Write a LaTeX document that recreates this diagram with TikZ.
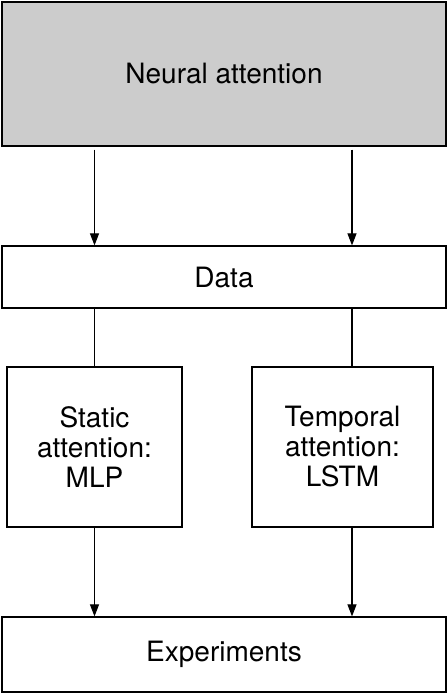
\documentclass[tikz,border=0pt]{standalone}
\usepackage{fontspec}
\setmainfont{TeX Gyre Heros}
\usetikzlibrary{arrows.meta}

\begin{document}
\begin{tikzpicture}[x=1pt, y=1pt, >={Triangle[width=9pt,length=12pt]},
    every box/.style={draw, line width=1.2pt, inner sep=0pt, align=center,
      font=\fontsize{28}{30}\selectfont},
    wide box/.style={every box, minimum width=444pt},
    small box/.style={every box, minimum height=160pt},
    link/.style={line width=1.1pt}]
  \useasboundingbox (0,0) rectangle (447,-694);
  \node [wide box, fill=black!20, minimum height=144pt] (neural) at (224,-74) {Neural attention};
  \node [wide box, minimum height=62pt] (data) at (224,-277) {Data};
  \node [small box, minimum width=175pt] (static) at (94.5,-447) {Static\\attention:\\MLP};
  \node [small box, minimum width=181pt] (temporal) at (342.5,-447) {Temporal\\attention:\\LSTM};
  \node [wide box, minimum height=75pt] (experiments) at (224,-654.5) {Experiments};
  \coordinate (col-1) at (94.5,0);
  \coordinate (col-2) at (352,0);
  \foreach \i in {1,2}
    \draw [link, ->, shorten <=3pt] (neural.south -| col-\i) -- (data.north -| col-\i);
  \draw [link] (data.south -| col-1) -- (static.north -| col-1);
  \draw [link] (data.south -| col-2) -- (temporal.north -| col-2);
  \draw [link, ->] (static.south -| col-1) -- (experiments.north -| col-1);
  \draw [link, ->] (temporal.south -| col-2) -- (experiments.north -| col-2);
\end{tikzpicture}
\end{document}
